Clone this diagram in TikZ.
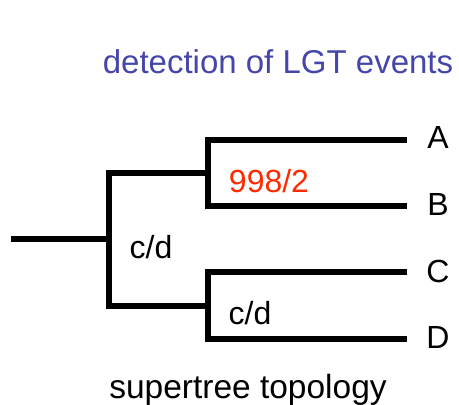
\documentclass[tikz,border=0pt]{standalone}
\usepackage{fontspec}
\setmainfont{Liberation Sans}
\definecolor{titleblue}{HTML}{4646AA}
\definecolor{lgtred}{HTML}{FF2A00}
\begin{document}
\begin{tikzpicture}[x=1pt,y=-1pt,
  branch/.style={line width=5.2pt},
  lbl/.style={inner sep=0pt,anchor=base,font=\fontsize{32}{32}\selectfont},
  leaf/.style={inner sep=0pt,anchor=base,font=\fontsize{32}{32}\selectfont}]
\useasboundingbox (0,0) rectangle (459,405);
% title and caption
\node[lbl,text=titleblue,font=\fontsize{33}{33}\selectfont] (title) at (278,73) {detection of LGT events};
\node[lbl,font=\fontsize{33.5}{33.5}\selectfont] (caption) at (248,398) {supertree topology};
% tree coordinates
\coordinate (root) at (11,239);
\coordinate (n1) at (109,239);
\coordinate (n2) at (208,173);
\coordinate (n3) at (208,306);
\coordinate (la) at (407,140);
\coordinate (lb) at (407,206);
\coordinate (lc) at (407,272);
\coordinate (ld) at (407,339);
% leaves
\node[leaf] (A) at (438,148) {A};
\node[leaf] (B) at (438,215) {B};
\node[leaf] (C) at (438,282) {C};
\node[leaf] (D) at (438,348) {D};
% branches
\draw[branch] (root) -- (n1);
\draw[branch] (n2) -| (n1) |- (n3);
\draw[branch] (la) -| (n2) |- (lb);
\draw[branch] (lc) -| (n3) |- (ld);
% labels
\node[lbl,text=lgtred] (s1) at (269,192) {998/2};
\node[lbl] (s2) at (151,258) {c/d};
\node[lbl] (s3) at (250,324) {c/d};
\end{tikzpicture}
\end{document}
